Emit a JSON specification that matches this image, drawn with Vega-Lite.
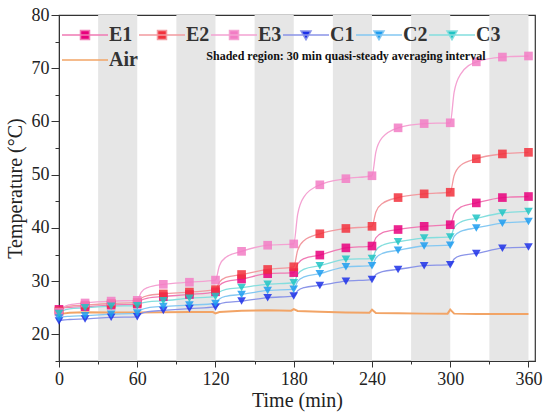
{
  "$schema": "https://vega.github.io/schema/vega-lite/v6.json",
  "width": 476,
  "height": 346,
  "autosize": {"type": "none"},
  "padding": {"left": 59, "top": 15, "right": 15, "bottom": 55},
  "background": "white",
  "config": {
    "view": {"stroke": "#333", "strokeWidth": 1.2},
    "font": "Liberation Serif"
  },
  "datasets": {
    "bands": [
      {"a": 30, "b": 60}, {"a": 90, "b": 120}, {"a": 150, "b": 180},
      {"a": 210, "b": 240}, {"a": 270, "b": 300}, {"a": 330, "b": 360}
    ],
    "series": [
      {"t": 0, "E1": 24.7, "E2": 24.4, "E3": 24.2, "C1": 22.5, "C2": 23.1, "C3": 23.9},
      {"t": 3, "E1": 24.95, "E2": 24.95, "E3": 25.05, "C1": 22.7, "C2": 23.3, "C3": 24.45},
      {"t": 8, "E1": 25.1, "E2": 25.3, "E3": 25.55, "C1": 22.8, "C2": 23.4, "C3": 24.8},
      {"t": 20, "E1": 25.2, "E2": 25.5, "E3": 25.9, "C1": 22.9, "C2": 23.5, "C3": 25.0},
      {"t": 40, "E1": 25.5, "E2": 25.8, "E3": 26.25, "C1": 23.2, "C2": 23.8, "C3": 25.3},
      {"t": 60, "E1": 25.7, "E2": 26.0, "E3": 26.4, "C1": 23.3, "C2": 24.0, "C3": 25.4},
      {"t": 63, "E1": 26.4, "E2": 26.8, "E3": 27.9, "C1": 23.9, "C2": 24.6, "C3": 25.85},
      {"t": 68, "E1": 26.8, "E2": 27.3, "E3": 28.8, "C1": 24.25, "C2": 25.0, "C3": 26.1},
      {"t": 80, "E1": 27.1, "E2": 27.6, "E3": 29.4, "C1": 24.5, "C2": 25.25, "C3": 26.3},
      {"t": 100, "E1": 27.5, "E2": 27.95, "E3": 29.8, "C1": 24.85, "C2": 25.5, "C3": 26.8},
      {"t": 120, "E1": 28.0, "E2": 28.4, "E3": 30.2, "C1": 25.15, "C2": 25.8, "C3": 27.1},
      {"t": 123, "E1": 29.2, "E2": 29.8, "E3": 32.9, "C1": 25.7, "C2": 26.65, "C3": 27.95},
      {"t": 128, "E1": 29.9, "E2": 30.7, "E3": 34.5, "C1": 26.0, "C2": 27.15, "C3": 28.45},
      {"t": 140, "E1": 30.4, "E2": 31.25, "E3": 35.6, "C1": 26.25, "C2": 27.5, "C3": 28.8},
      {"t": 160, "E1": 31.4, "E2": 32.2, "E3": 36.75, "C1": 26.9, "C2": 28.25, "C3": 29.4},
      {"t": 180, "E1": 31.6, "E2": 32.7, "E3": 37.0, "C1": 27.2, "C2": 28.5, "C3": 29.7},
      {"t": 183, "E1": 33.25, "E2": 35.8, "E3": 42.55, "C1": 28.2, "C2": 29.95, "C3": 31.3},
      {"t": 188, "E1": 34.25, "E2": 37.65, "E3": 45.9, "C1": 28.8, "C2": 30.8, "C3": 32.25},
      {"t": 200, "E1": 34.9, "E2": 38.9, "E3": 48.1, "C1": 29.2, "C2": 31.4, "C3": 32.9},
      {"t": 220, "E1": 36.25, "E2": 39.9, "E3": 49.25, "C1": 30.0, "C2": 32.7, "C3": 34.1},
      {"t": 240, "E1": 36.6, "E2": 40.3, "E3": 49.8, "C1": 30.3, "C2": 32.9, "C3": 34.25},
      {"t": 243, "E1": 38.15, "E2": 43.0, "E3": 54.3, "C1": 31.25, "C2": 34.35, "C3": 35.8},
      {"t": 248, "E1": 39.1, "E2": 44.6, "E3": 57.0, "C1": 31.8, "C2": 35.2, "C3": 36.75},
      {"t": 260, "E1": 39.7, "E2": 45.7, "E3": 58.8, "C1": 32.2, "C2": 35.8, "C3": 37.4},
      {"t": 280, "E1": 40.3, "E2": 46.4, "E3": 59.6, "C1": 32.9, "C2": 36.6, "C3": 38.1},
      {"t": 300, "E1": 40.6, "E2": 46.7, "E3": 59.75, "C1": 33.1, "C2": 36.75, "C3": 38.3},
      {"t": 303, "E1": 42.65, "E2": 49.85, "E3": 65.5, "C1": 34.15, "C2": 38.4, "C3": 40.05},
      {"t": 308, "E1": 43.9, "E2": 51.75, "E3": 68.9, "C1": 34.8, "C2": 39.35, "C3": 41.1},
      {"t": 320, "E1": 44.7, "E2": 53.0, "E3": 71.2, "C1": 35.2, "C2": 40.0, "C3": 41.8},
      {"t": 340, "E1": 45.7, "E2": 53.9, "E3": 72.1, "C1": 36.2, "C2": 40.9, "C3": 42.8},
      {"t": 360, "E1": 45.9, "E2": 54.2, "E3": 72.3, "C1": 36.4, "C2": 41.2, "C3": 43.1}
    ],
    "air": [
      {"t": 0, "Air": 23.6}, {"t": 3, "Air": 23.9}, {"t": 8, "Air": 24.05},
      {"t": 20, "Air": 24.15}, {"t": 40, "Air": 24.1}, {"t": 60, "Air": 24.1},
      {"t": 80, "Air": 24.15}, {"t": 100, "Air": 24.2}, {"t": 118, "Air": 24.2},
      {"t": 120, "Air": 23.95}, {"t": 123, "Air": 24.2}, {"t": 140, "Air": 24.45},
      {"t": 160, "Air": 24.55}, {"t": 178, "Air": 24.45}, {"t": 180, "Air": 24.75},
      {"t": 183, "Air": 24.4}, {"t": 200, "Air": 24.25}, {"t": 220, "Air": 24.1},
      {"t": 238, "Air": 24.05}, {"t": 240, "Air": 24.65}, {"t": 243, "Air": 24.0},
      {"t": 260, "Air": 23.95}, {"t": 280, "Air": 23.9}, {"t": 298, "Air": 23.9},
      {"t": 300, "Air": 24.65}, {"t": 303, "Air": 23.9}, {"t": 320, "Air": 23.85},
      {"t": 340, "Air": 23.85}, {"t": 360, "Air": 23.85}
    ],
    "note": [{"text": "Shaded region: 30 min quasi-steady averaging interval"}]
  },
  "encoding": {
    "x": {
      "type": "quantitative",
      "scale": {"domain": [0, 365], "nice": false, "zero": false},
      "axis": {
        "title": "Time (min)",
        "values": [0, 30, 60, 90, 120, 150, 180, 210, 240, 270, 300, 330, 360],
        "labelExpr": "datum.value % 60 === 0 ? datum.label : ''",
        "tickSize": {"condition": {"test": "datum.value % 60 !== 0", "value": 3}, "value": 6},
        "grid": false,
        "domainColor": "#333",
        "tickColor": "#333",
        "labelFont": "Liberation Serif",
        "labelFontSize": 18,
        "labelColor": "#222",
        "labelPadding": 3,
        "labelFlush": false,
        "titleFont": "Liberation Serif",
        "titleFontSize": 20,
        "titleFontWeight": "normal",
        "titleColor": "#222",
        "titlePadding": 2
      }
    },
    "y": {
      "type": "quantitative",
      "scale": {"domain": [15, 80], "nice": false, "zero": false},
      "axis": {
        "title": "Temperature (°C)",
        "values": [15, 20, 25, 30, 35, 40, 45, 50, 55, 60, 65, 70, 75, 80],
        "labelExpr": "datum.value % 10 === 0 ? datum.label : ''",
        "tickSize": {"condition": {"test": "datum.value % 10 !== 0", "value": 4}, "value": 8},
        "grid": false,
        "domainColor": "#333",
        "tickColor": "#333",
        "labelFont": "Liberation Serif",
        "labelFontSize": 18,
        "labelColor": "#222",
        "labelPadding": 2,
        "labelFlush": false,
        "titleFont": "Liberation Serif",
        "titleFontSize": 20,
        "titleFontWeight": "normal",
        "titleColor": "#222",
        "titlePadding": 6
      }
    }
  },
  "layer": [
    {
      "data": {"name": "bands"},
      "mark": {"type": "rect", "color": "#e6e6e6"},
      "encoding": {
        "x": {"field": "a"},
        "x2": {"field": "b"}
      }
    },
    {
      "data": {"name": "air"},
      "transform": [{"fold": ["Air"]}],
      "mark": {"type": "line", "strokeWidth": 2},
      "encoding": {
        "x": {"field": "t"},
        "y": {"field": "value"},
        "stroke": {"field": "key", "type": "nominal"}
      }
    },
    {
      "data": {"name": "series"},
      "transform": [{"fold": ["E1", "E2", "E3", "C1", "C2", "C3"]}],
      "mark": {"type": "line", "strokeWidth": 1.3, "interpolate": "monotone"},
      "encoding": {
        "x": {"field": "t"},
        "y": {"field": "value"},
        "stroke": {
          "field": "key",
          "type": "nominal",
          "scale": {
            "domain": ["E1", "E2", "E3", "C1", "C2", "C3", "Air"],
            "range": ["#f07ab4", "#f29aa0", "#f4a2d2", "#8a94e8", "#84c8f2", "#84dede", "#f2a466"]
          },
          "legend": {
            "title": null,
            "orient": "none",
            "legendX": 16,
            "legendY": 10,
            "direction": "horizontal",
            "columns": 6,
            "columnPadding": -2,
            "rowPadding": 5,
            "symbolSize": 100,
            "symbolStrokeWidth": 1.5,
            "labelFont": "Liberation Serif",
            "labelFontSize": 20,
            "labelFontWeight": "bold",
            "labelColor": "#333",
            "labelOffset": 14,
            "encode": {
              "symbols": {
                "update": {
                  "shape": {"signal": "datum.value === 'Air' ? 'M-4.6,0H4.6' : (indexof(['E1','E2','E3'], datum.value) >= 0 ? 'M-4.6,0H4.6M-0.9,-0.9H0.9V0.9H-0.9Z' : 'M-4.6,0H4.6M-1,-0.8H1L0,0.95Z')"},
                  "fill": {"signal": "scale('fill', datum.value)"}
                }
              }
            }
          }
        }
      }
    },
    {
      "data": {"name": "series"},
      "transform": [
        {"fold": ["E1", "E2", "E3", "C1", "C2", "C3"]},
        {"filter": "datum.t % 20 === 0"}
      ],
      "mark": {"type": "point", "filled": true, "size": 75, "opacity": 0.85},
      "encoding": {
        "x": {"field": "t"},
        "y": {"field": "value"},
        "fill": {
          "field": "key",
          "type": "nominal",
          "scale": {
            "domain": ["E1", "E2", "E3", "C1", "C2", "C3", "Air"],
            "range": ["#e8007c", "#f2303c", "#f27cc4", "#1c30e8", "#1c9cf0", "#20c4c4", "#f2a466"]
          },
          "legend": null
        },
        "shape": {
          "field": "key",
          "type": "nominal",
          "scale": {
            "domain": ["E1", "E2", "E3", "C1", "C2", "C3"],
            "range": ["square", "square", "square", "triangle-down", "triangle-down", "triangle-down"]
          },
          "legend": null
        }
      }
    },
    {
      "data": {"name": "note"},
      "mark": {
        "type": "text",
        "font": "Liberation Serif",
        "fontSize": 12,
        "fontWeight": "bold",
        "color": "#111",
        "align": "center",
        "baseline": "middle"
      },
      "encoding": {
        "x": {"datum": 220},
        "y": {"datum": 72.3},
        "text": {"field": "text"}
      }
    }
  ]
}
